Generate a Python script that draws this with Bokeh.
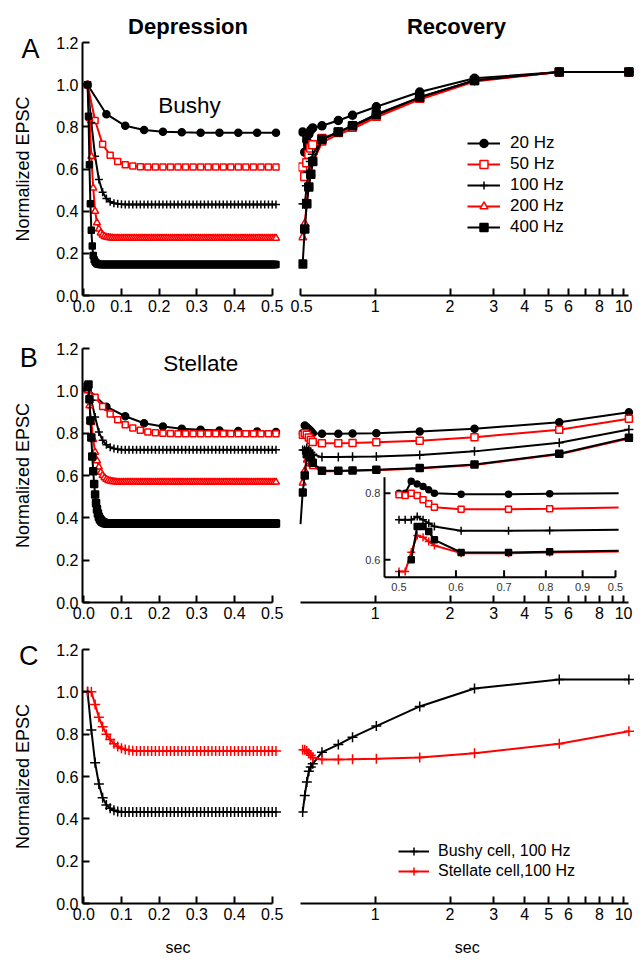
import numpy as np
from bokeh.plotting import figure
from bokeh.layouts import column, row
from bokeh.models import (Range1d, FixedTicker, PrintfTickFormatter, CustomJSTickFormatter,
                          Legend, LegendItem, Label, LogScale, LinearScale, GridBox)
from bokeh.core.properties import value
from bokeh.embed import file_html
from bokeh.resources import INLINE

FONT = "Liberation Sans"
RED = "#ff0000"
BLACK = "#000000"

# ------------------------------------------------------------------ data
FREQS = [20, 50, 100, 200, 400]
FREQ_LABELS = ["20 Hz", "50 Hz", "100 Hz", "200 Hz", "400 Hz"]
TRAIN_START = 0.01
TRAIN_END = 0.51

# depression (normalized EPSC per pulse), bushy cells
bushy_dep = {
    20: [1.0, 0.86, 0.805, 0.785, 0.777, 0.774, 0.772, 0.772, 0.772, 0.772, 0.772],
    50: [1.0, 0.83, 0.717, 0.665, 0.635, 0.62, 0.614, 0.611] + [0.61] * 18,
    100: [1.0, 0.82, 0.66, 0.55, 0.49, 0.46, 0.445, 0.438, 0.435, 0.433] + [0.432] * 41,
    200: [1.0, 0.84, 0.66, 0.51, 0.40, 0.345, 0.315, 0.297, 0.287, 0.28, 0.277, 0.275,
          0.274, 0.273] + [0.272] * 87,
    400: [1.0, 0.85, 0.62, 0.435, 0.31, 0.235, 0.19, 0.17, 0.16, 0.155, 0.151, 0.149,
          0.148] + [0.147] * 188,
}
# depression, stellate cells
stell_dep = {
    20: [1.01, 0.925, 0.88, 0.847, 0.832, 0.821, 0.816, 0.813, 0.81, 0.808, 0.805],
    50: [1.01, 0.97, 0.926, 0.89, 0.863, 0.84, 0.825, 0.814, 0.806, 0.802, 0.80, 0.798]
        + [0.797] * 14,
    100: [1.0, 0.955, 0.876, 0.805, 0.766, 0.745, 0.733, 0.727, 0.724] + [0.722] * 42,
    200: [1.0, 0.93, 0.85, 0.77, 0.71, 0.67, 0.64, 0.615, 0.60, 0.59, 0.582, 0.577, 0.574,
          0.572, 0.571, 0.57] + [0.569] * 85,
    400: [1.02, 1.03, 0.96, 0.86, 0.78, 0.69, 0.62, 0.56, 0.51, 0.47, 0.44, 0.42, 0.405,
          0.395, 0.388, 0.383, 0.38, 0.378, 0.376, 0.375, 0.374] + [0.373] * 180,
}
# recovery test times (sec)
REC_T = [0.51, 0.52, 0.53, 0.54, 0.55, 0.56, 0.61, 0.71, 0.81, 1.01, 1.51, 2.51, 5.51, 10.51]
STELL_REC_T = [0.50] + REC_T

bushy_rec = {
    20: [0.775, 0.68, 0.735, 0.765, 0.785, 0.795, 0.805, 0.83, 0.855, 0.895, 0.965, 1.03, 1.06, 1.06],
    50: [0.61, 0.565, 0.63, 0.67, 0.70, 0.715, 0.745, 0.775, 0.80, 0.85, 0.935, 1.02, 1.06, 1.06],
    100: [0.435, 0.435, 0.52, 0.585, 0.635, 0.67, 0.74, 0.775, 0.805, 0.855, 0.94, 1.02, 1.06, 1.06],
    200: [0.275, 0.34, 0.44, 0.52, 0.58, 0.63, 0.725, 0.765, 0.79, 0.845, 0.93, 1.015, 1.06, 1.06],
    400: [0.15, 0.315, 0.435, 0.515, 0.575, 0.635, 0.74, 0.775, 0.805, 0.86, 0.94, 1.02, 1.06, 1.06],
}
stell_rec = {
    20: [0.80, 0.80, 0.836, 0.828, 0.82, 0.81, 0.80, 0.797, 0.797, 0.798, 0.80, 0.808, 0.821, 0.852, 0.899],
    50: [0.795, 0.793, 0.80, 0.793, 0.78, 0.768, 0.758, 0.752, 0.752, 0.753, 0.757, 0.764, 0.781, 0.816, 0.868],
    100: [0.72, 0.72, 0.72, 0.73, 0.72, 0.71, 0.70, 0.687, 0.687, 0.688, 0.69, 0.697, 0.714, 0.755, 0.817],
    200: [0.565, 0.565, 0.623, 0.673, 0.668, 0.655, 0.643, 0.62, 0.62, 0.622, 0.625, 0.633, 0.65, 0.70, 0.775],
    400: [0.37, 0.52, 0.60, 0.70, 0.70, 0.685, 0.66, 0.622, 0.622, 0.624, 0.627, 0.636, 0.652, 0.703, 0.778],
}
# comparison at 100 Hz
CMP_LABELS = ["Bushy cell, 100 Hz", "Stellate cell,100 Hz"]
cmp_dep_bushy = [1.0, 0.82, 0.665, 0.565, 0.50, 0.465, 0.45, 0.44, 0.435] + [0.432] * 42
cmp_dep_stell = [1.0, 1.0, 0.94, 0.88, 0.835, 0.80, 0.775, 0.755, 0.742, 0.733, 0.727,
                 0.724, 0.722] + [0.72] * 38
cmp_rec_bushy = [0.432, 0.51, 0.574, 0.625, 0.645, 0.66, 0.715, 0.751, 0.786, 0.838, 0.931,
                 1.016, 1.058, 1.058]
cmp_rec_stell = [0.726, 0.726, 0.72, 0.71, 0.70, 0.69, 0.68, 0.68, 0.681, 0.684, 0.69, 0.71,
                 0.755, 0.814]

# ticks
Y_TICKS = [0.0, 0.2, 0.4, 0.6, 0.8, 1.0, 1.2]
DEP_XTICKS = [0.0, 0.1, 0.2, 0.3, 0.4, 0.5]
REC_TICKS_A = [0.5, 1, 2, 3, 4, 5, 6, 7, 8, 9, 10]
REC_LABELS_A = ["0.5", "1", "2", "3", "4", "5", "6", "", "8", "", "10"]
REC_TICKS_BC = [1, 2, 3, 4, 5, 6, 7, 8, 9, 10]
REC_LABELS_BC = ["1", "2", "3", "4", "5", "6", "", "8", "", "10"]
INSET_XTICKS = [0.5, 0.6, 0.7, 0.8, 0.9, 1.0]
INSET_XLABELS = ["0.5", "0.6", "0.7", "0.8", "0.9", "0.5"]
INSET_YTICKS = [0.6, 0.8]
INSET_YLABELS = ["0.6", "0.8"]

# free texts (panel letters, column titles, axis names)
LETTERS = ["A", "B", "C"]
COLUMN_TITLES = ["Depression", "Recovery"]
X_NAMES = ["sec", "sec"]


def train_times(freq):
    n = int(round((TRAIN_END - TRAIN_START) * freq)) + 1
    return TRAIN_START + np.arange(n) / freq


# ------------------------------------------------------------------ styles / layout
STYLE = {20: (BLACK, "circle", BLACK), 50: (RED, "square", "white"),
         100: (BLACK, "cross", None), 200: (RED, "triangle", "white"),
         400: (BLACK, "square", BLACK)}
SIZE_DEP = {20: 7, 50: 6, 100: 8, 200: 7, 400: 6}
SIZE_REC = {20: 8, 50: 8, 100: 10, 200: 8, 400: 8}
SIZE_LEG = {20: 11, 50: 11, 100: 13, 200: 11, 400: 11}
SIZE_INSET = {20: 6, 50: 6, 100: 8, 200: 8, 400: 6}
INSET_MARKER = {200: "cross"}

PAGE_W, PAGE_H = 642, 962
LEFT_W, RIGHT_W = 290, 352
ROW_H = [325, 307, 330]
TOP_B = [42, 23, 17]
BOT_B = [30, 30, 59]
L_BORDERS = (82, 8)
R_BORDERS = (8, 8)
DEP_RANGE = (-0.00345, 0.5273)
REC_RANGE = (0.4907, 11.07)
Y_RANGE = (0.0, 1.2)

# overlay text positions (page pixels, vertical centre of the text)
LETTER_POS = [(30, 48.9), (28.3, 357.3), (28.3, 655.6)]
TITLE_POS = [(187.5, 25.7), (456, 25.7)]
XNAME_POS = [(177.5, 947.4), (466.7, 947.4)]


def style_axis(ax):
    ax.axis_line_width = 2
    ax.axis_line_color = BLACK
    ax.major_tick_in = 7
    ax.major_tick_out = 0
    ax.major_tick_line_width = 2
    ax.major_tick_line_color = BLACK
    ax.minor_tick_line_color = None
    ax.major_label_text_font = FONT
    ax.major_label_text_font_size = "16px"
    ax.major_label_text_color = BLACK
    ax.major_label_standoff = 4
    ax.axis_label_text_font = FONT
    ax.axis_label_text_font_style = "normal"
    ax.axis_label_text_color = BLACK


def base_fig(row_i, left):
    w = LEFT_W if left else RIGHT_W
    bl, br = L_BORDERS if left else R_BORDERS
    p = figure(width=w, height=ROW_H[row_i],
               x_range=Range1d(*(DEP_RANGE if left else REC_RANGE)),
               y_range=Range1d(*Y_RANGE),
               x_axis_type="linear" if left else "log",
               y_axis_location="left" if left else None,
               output_backend="svg", toolbar_location=None,
               min_border_left=bl, min_border_right=br,
               min_border_top=TOP_B[row_i], min_border_bottom=BOT_B[row_i])
    p.grid.visible = False
    p.outline_line_color = None
    p.background_fill_color = "white"
    p.border_fill_color = "white"
    for ax in p.axis:
        style_axis(ax)
    if left:
        p.xaxis.ticker = FixedTicker(ticks=DEP_XTICKS)
        p.xaxis.formatter = PrintfTickFormatter(format="%.1f")
        p.xaxis.bounds = (0.0, 0.5)
        p.yaxis.ticker = FixedTicker(ticks=Y_TICKS)
        p.yaxis.formatter = PrintfTickFormatter(format="%.1f")
        p.yaxis.bounds = (0.0, 1.2)
        p.yaxis.axis_label = "Normalized EPSC"
        p.yaxis.axis_label_text_font_size = "18px"
        p.yaxis.axis_label_standoff = 20
    else:
        ticks = REC_TICKS_A if row_i == 0 else REC_TICKS_BC
        labels = REC_LABELS_A if row_i == 0 else REC_LABELS_BC
        p.xaxis.ticker = FixedTicker(ticks=ticks)
        p.xaxis.formatter = CustomJSTickFormatter(
            args=dict(tv=ticks, tl=labels),
            code="const i = tv.findIndex((t) => Math.abs(t - tick) < 1e-9); return i >= 0 ? tl[i] : '';")
        p.xaxis.bounds = (0.5, 10.5)
    return p


def draw(p, t, v, freq, size, mask=None, marker=None, **kw):
    color, mk, fill = STYLE[freq]
    t = np.asarray(t, dtype=float)
    v = np.asarray(v, dtype=float)
    p.line(t, v, line_color=color, line_width=2, **kw)
    if mask is None:
        mask = np.ones(len(t), dtype=bool)
    p.scatter(t[mask], v[mask], marker=marker or mk, size=size, line_color=color,
              fill_color=fill, line_width=1.5, **kw)


def add_label(p, text, x, y, size, bold=False):
    p.add_layout(Label(x=x, y=y, x_units="screen", y_units="screen", text=text,
                       text_font=FONT, text_font_size=size,
                       text_font_style="bold" if bold else "normal",
                       text_align="center", text_baseline="middle", text_color=BLACK))


def legend_entry(p, label, color, marker, size, fill):
    # renderers used only for the legend key (one undefined point, never drawn)
    lr = p.line([np.nan], [np.nan], line_color=color, line_width=2)
    sr = p.scatter([np.nan], [np.nan], marker=marker, size=size, line_color=color,
                   fill_color=fill, line_width=1.5)
    return LegendItem(label=label, renderers=[lr, sr])


# ------------------------------------------------------------------ row A (bushy)
pAL = base_fig(0, True)
for f in FREQS:
    draw(pAL, train_times(f), bushy_dep[f], f, SIZE_DEP[f])
add_label(pAL, "Bushy", 107, 190.5, "22.5px")

pAR = base_fig(0, False)
for f in FREQS:
    draw(pAR, REC_T, bushy_rec[f], f, SIZE_REC[f])
items = [legend_entry(pAR, lab, STYLE[f][0], STYLE[f][1], SIZE_LEG[f], STYLE[f][2])
         for f, lab in zip(FREQS, FREQ_LABELS)]
legA = Legend(items=items, location=(169, 58), padding=0, margin=0, spacing=1,
              glyph_width=33, glyph_height=20, label_height=20, label_standoff=10,
              label_text_font=FONT, label_text_font_size="17px", label_text_color=BLACK,
              border_line_color=None, background_fill_alpha=0)
pAR.add_layout(legA)

# ------------------------------------------------------------------ row B (stellate)
pBL = base_fig(1, True)
for f in FREQS:
    draw(pBL, train_times(f), stell_dep[f], f, SIZE_DEP[f] if f != 400 else 7)
add_label(pBL, "Stellate", 118.3, 239.1, "22.5px")

pBR = base_fig(1, False)
st = np.asarray(STELL_REC_T)
for f in FREQS:
    draw(pBR, st, stell_rec[f], f, 7 if f != 100 else 9, mask=st >= 0.51)

# inset (zoom of early recovery), mapped into the frame with its own log/linear scales
FRAME_W = RIGHT_W - sum(R_BORDERS)
FRAME_H = ROW_H[1] - TOP_B[1] - BOT_B[1]
IN_X_PX = (100.5, 317.0)      # frame px of inset x = 0.5 and 1.0
IN_Y_PX = (144.7, 211.3)      # frame px (from top) of inset y = 0.8 and 0.6
decade = (IN_X_PX[1] - IN_X_PX[0]) / np.log10(1.0 / 0.5)
unit = (IN_Y_PX[1] - IN_Y_PX[0]) / 0.2
ix0 = 0.5 * 10 ** (-IN_X_PX[0] / decade)
ix1 = 0.5 * 10 ** ((FRAME_W - IN_X_PX[0]) / decade)
iy1 = 0.8 + IN_Y_PX[0] / unit
iy0 = 0.6 - (FRAME_H - IN_Y_PX[1]) / unit
pBR.extra_x_ranges = {"ix": Range1d(ix0, ix1)}
pBR.extra_x_scales = {"ix": LogScale()}
pBR.extra_y_ranges = {"iy": Range1d(iy0, iy1)}
pBR.extra_y_scales = {"iy": LinearScale()}
IK = dict(x_range_name="ix", y_range_name="iy")
AX_X, AX_Y, AX_TOP, AX_RIGHT = 0.4773, 0.5477, 0.848, 1.0

for f in FREQS:
    v = np.asarray(stell_rec[f])
    sel = (st <= 1.01) & (v >= AX_Y)
    draw(pBR, st[sel], v[sel], f, SIZE_INSET[f], mask=st[sel] < 1.0,
         marker=INSET_MARKER.get(f), **IK)

pBR.segment(x0=[AX_X, AX_X], y0=[AX_Y, AX_Y], x1=[AX_RIGHT, AX_X], y1=[AX_Y, AX_TOP],
            line_color=BLACK, line_width=2, **IK)
pBR.ray(x=INSET_XTICKS, y=[AX_Y] * len(INSET_XTICKS), length=7, length_units="screen",
        angle=np.pi / 2, line_color=BLACK, line_width=2, **IK)
pBR.ray(x=[AX_X] * len(INSET_YTICKS), y=INSET_YTICKS, length=6, length_units="screen",
        angle=0, line_color=BLACK, line_width=2, **IK)
pBR.text(x=INSET_XTICKS, y=[AX_Y] * len(INSET_XTICKS), text=INSET_XLABELS, y_offset=10,
         text_align="center", text_baseline="middle", text_font=value(FONT),
         text_font_size="11px", text_color="#333333", **IK)
pBR.text(x=[AX_X] * len(INSET_YTICKS), y=INSET_YTICKS, text=INSET_YLABELS, x_offset=-4,
         text_align="right", text_baseline="middle", text_font=value(FONT),
         text_font_size="11px", text_color="#333333", **IK)

# ------------------------------------------------------------------ row C (comparison)
pCL = base_fig(2, True)
t100 = train_times(100)
pCL.line(t100, cmp_dep_bushy, line_color=BLACK, line_width=2)
pCL.scatter(t100, cmp_dep_bushy, marker="cross", size=10, line_color=BLACK, line_width=1.5)
pCL.line(t100, cmp_dep_stell, line_color=RED, line_width=2)
pCL.scatter(t100, cmp_dep_stell, marker="cross", size=10, line_color=RED, line_width=1.5)

pCR = base_fig(2, False)
pCR.line(REC_T, cmp_rec_bushy, line_color=BLACK, line_width=2)
pCR.scatter(REC_T, cmp_rec_bushy, marker="cross", size=10, line_color=BLACK, line_width=1.5)
pCR.line(REC_T, cmp_rec_stell, line_color=RED, line_width=2)
pCR.scatter(REC_T, cmp_rec_stell, marker="cross", size=10, line_color=RED, line_width=1.5)
citems = [legend_entry(pCR, lab, color, "cross", 12, None)
          for lab, color in zip(CMP_LABELS, [BLACK, RED])]
legC = Legend(items=citems, location=(100, 22), padding=0, margin=0, spacing=0,
              glyph_width=31, glyph_height=20, label_height=20, label_standoff=9,
              label_text_font=FONT, label_text_font_size="16px", label_text_color=BLACK,
              border_line_color=None, background_fill_alpha=0)
pCR.add_layout(legC)

# ------------------------------------------------------------------ transparent text overlay
ov = figure(width=PAGE_W, height=PAGE_H, x_range=Range1d(0, PAGE_W), y_range=Range1d(PAGE_H, 0),
            output_backend="svg", toolbar_location=None,
            x_axis_location=None, y_axis_location=None,
            min_border_left=0, min_border_right=0, min_border_top=0, min_border_bottom=0)
ov.grid.visible = False
ov.outline_line_color = None
ov.background_fill_color = None
ov.border_fill_color = None
ov.text(x=[p[0] for p in LETTER_POS], y=[p[1] for p in LETTER_POS], text=LETTERS,
        text_font=value(FONT), text_font_size="27px", text_align="center",
        text_baseline="middle", text_color=BLACK)
ov.text(x=[p[0] for p in TITLE_POS], y=[p[1] for p in TITLE_POS], text=COLUMN_TITLES,
        text_font=value(FONT), text_font_size="22px", text_font_style="bold",
        text_align="center", text_baseline="middle", text_color=BLACK)
ov.text(x=[p[0] for p in XNAME_POS], y=[p[1] for p in XNAME_POS], text=X_NAMES,
        text_font=value(FONT), text_font_size="16px", text_align="center",
        text_baseline="middle", text_color=BLACK)

plots = column(row(pAL, pAR), row(pBL, pBR), row(pCL, pCR))
layout = GridBox(children=[(plots, 0, 0), (ov, 0, 0)])
open("out.html", "w").write(file_html(layout, INLINE))
